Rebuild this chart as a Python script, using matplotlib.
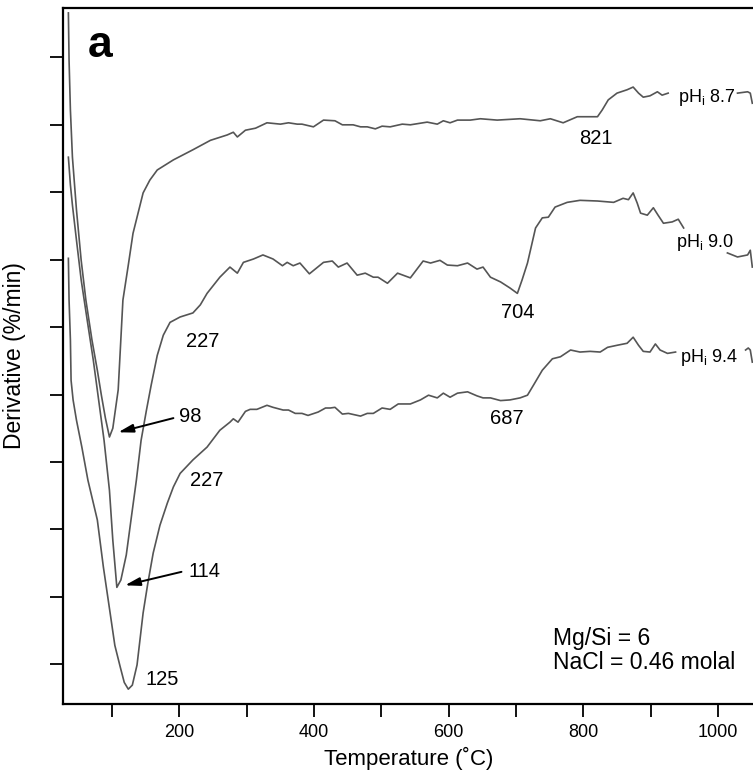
import numpy as np
import matplotlib
matplotlib.use("Agg")
import matplotlib.pyplot as plt

plt.rcParams["font.family"] = ["Liberation Sans", "DejaVu Sans"]
plt.rcParams["mathtext.fontset"] = "custom"
plt.rcParams["mathtext.rm"] = "Liberation Sans"
plt.rcParams["mathtext.it"] = "Liberation Sans"

# temperature (C) and derivative (arbitrary offset units, one y tick = 1)
# nan marks where the curve is hidden behind its label
temp_87 = [35, 36, 38, 41, 47, 54, 61, 70, 78, 84, 90, 96, 101, 109, 116, 124,
           131, 146, 156, 167, 191, 220, 246, 271, 280, 286, 298, 313, 330, 350,
           362, 375, 382, 399, 414, 431, 442, 458, 469, 479, 491, 501, 513, 531,
           543, 568, 583, 592, 602, 613, 632, 647, 672, 706, 736, 751, 770, 791,
           821, 828, 837, 850, 865, 874, 882, 889, 899, 910, 917, 926, 980, 1029,
           1044, 1048, 1051]
deriv_87 = [10.66, 9.96, 9.22, 8.52, 7.74, 6.99, 6.40, 5.81, 5.36, 4.99, 4.65,
            4.37, 4.50, 5.07, 6.40, 6.92, 7.39, 7.99, 8.18, 8.33, 8.48, 8.63,
            8.77, 8.85, 8.89, 8.82, 8.92, 8.95, 9.03, 9.01, 9.03, 9.01, 9.01,
            8.97, 9.07, 9.06, 9.00, 9.00, 8.97, 8.97, 8.94, 8.98, 8.97, 9.01,
            9.00, 9.04, 9.01, 9.06, 9.03, 9.07, 9.07, 9.09, 9.07, 9.09, 9.06,
            9.09, 9.03, 9.12, 9.12, 9.22, 9.37, 9.47, 9.52, 9.56, 9.47, 9.41,
            9.43, 9.49, 9.44, 9.47, np.nan, 9.47, 9.49, 9.47, 9.32]

temp_90 = [35, 38, 41, 47, 54, 63, 72, 79, 88, 96, 101, 107, 113, 121, 128, 136,
           143, 151, 158, 167, 176, 186, 201, 220, 231, 241, 260, 275, 286, 295,
           310, 324, 339, 353, 360, 369, 379, 393, 414, 427, 436, 449, 464, 476,
           488, 495, 509, 524, 543, 562, 573, 587, 598, 613, 628, 642, 651, 662,
           677, 691, 702, 709, 717, 729, 739, 748, 758, 776, 795, 821, 845, 859,
           867, 874, 880, 885, 895, 904, 911, 919, 932, 941, 949, 980, 1014, 1029,
           1044, 1048, 1051]
deriv_90 = [8.52, 8.11, 7.81, 7.29, 6.70, 6.10, 5.51, 4.99, 4.32, 3.58, 2.84,
            2.14, 2.25, 2.62, 3.14, 3.73, 4.32, 4.77, 5.14, 5.58, 5.88, 6.07,
            6.15, 6.21, 6.33, 6.50, 6.74, 6.89, 6.80, 6.96, 7.01, 7.07, 7.01,
            6.91, 6.96, 6.91, 6.95, 6.79, 6.96, 6.98, 6.89, 6.95, 6.77, 6.80,
            6.74, 6.74, 6.65, 6.80, 6.73, 6.98, 6.95, 6.99, 6.92, 6.91, 6.95,
            6.86, 6.89, 6.74, 6.67, 6.58, 6.50, 6.70, 6.95, 7.47, 7.62, 7.63,
            7.78, 7.85, 7.88, 7.87, 7.85, 7.91, 7.89, 7.99, 7.84, 7.69, 7.66,
            7.77, 7.66, 7.54, 7.56, 7.60, 7.47, np.nan, 7.10, 7.04, 7.07, 7.14,
            6.89]

temp_94 = [35, 36, 38, 39, 42, 47, 55, 64, 78, 87, 97, 104, 112, 118, 124, 130,
           137, 146, 153, 161, 171, 182, 191, 201, 220, 241, 260, 275, 280, 287,
           298, 305, 315, 330, 339, 354, 362, 372, 382, 391, 406, 417, 424, 431,
           442, 451, 469, 479, 488, 501, 513, 525, 543, 558, 570, 583, 592, 602,
           613, 628, 642, 651, 662, 677, 691, 706, 717, 726, 739, 754, 766, 781,
           795, 810, 825, 836, 850, 865, 874, 882, 889, 899, 907, 914, 925, 937,
           990, 1041, 1045, 1048, 1051]
deriv_94 = [7.02, 6.40, 5.81, 5.21, 4.92, 4.62, 4.22, 3.73, 3.14, 2.44, 1.76,
            1.28, 0.96, 0.73, 0.63, 0.69, 0.99, 1.76, 2.20, 2.65, 3.06, 3.39,
            3.63, 3.83, 4.03, 4.22, 4.47, 4.59, 4.64, 4.59, 4.75, 4.78, 4.78,
            4.84, 4.81, 4.77, 4.77, 4.72, 4.72, 4.69, 4.74, 4.80, 4.80, 4.81,
            4.71, 4.72, 4.68, 4.72, 4.72, 4.80, 4.78, 4.86, 4.86, 4.92, 4.99,
            4.95, 5.02, 4.96, 5.02, 5.04, 4.98, 4.95, 4.95, 4.91, 4.92, 4.95,
            4.99, 5.14, 5.36, 5.53, 5.56, 5.66, 5.63, 5.64, 5.63, 5.70, 5.73,
            5.76, 5.85, 5.73, 5.64, 5.63, 5.75, 5.66, 5.61, 5.63, np.nan, 5.66,
            5.69, 5.66, 5.48]

peak_labels = ["821", "704", "687", "227", "227", "125"]
peak_x = [818, 702, 687, 234, 241, 174]
peak_y = [8.79, 6.21, 4.65, 5.79, 3.73, 0.78]

arrow_labels = ["98", "114"]
arrow_text_xy = [(216, 4.68), (237, 2.38)]
arrow_tail = [(191, 4.65), (203, 2.37)]
arrow_head = [(109, 4.44), (119, 2.17)]

ph_labels = ["pH$_\\mathrm{i}$ 8.7", "pH$_\\mathrm{i}$ 9.0", "pH$_\\mathrm{i}$ 9.4"]
ph_x = [940, 937, 944]
ph_y = [9.41, 7.26, 5.55]

fig = plt.figure(figsize=(7.53, 7.74), dpi=100)
ax = fig.add_axes([63 / 753, 70 / 774, 692 / 753, 696.5 / 774])

line_color = "#555555"
for t, d in [(temp_87, deriv_87), (temp_90, deriv_90), (temp_94, deriv_94)]:
    ax.plot(t, d, color=line_color, lw=1.2)

for lab, x, y in zip(peak_labels, peak_x, peak_y):
    ax.text(x, y, lab, fontsize=14.5, ha="center", va="center")

for lab, txy, tail, head in zip(arrow_labels, arrow_text_xy, arrow_tail, arrow_head):
    ax.text(txy[0], txy[1], lab, fontsize=14.5, ha="center", va="center")
    ax.annotate("", xy=head, xytext=tail,
                arrowprops=dict(arrowstyle="-|>,head_length=0.9,head_width=0.25",
                                color="black", lw=1.4, shrinkA=0, shrinkB=0))

for lab, x, y in zip(ph_labels, ph_x, ph_y):
    ax.text(x, y, lab, fontsize=13, ha="left", va="center")

ax.text(82, 10.18, "a", fontsize=32, fontweight="bold", ha="center", va="center")
ax.text(755, 1.2, "Mg/Si = 6\nNaCl = 0.46 molal", fontsize=16.5,
        ha="left", va="center", linespacing=1.05)

ax.set_xlim(27, 1055)
ax.set_ylim(0.41, 10.74)

ax.set_xticks([200, 400, 600, 800, 1000])
ax.set_xticks([100, 300, 500, 700, 900], minor=True)
ax.set_yticks(range(1, 11))
ax.set_yticklabels([])
ax.tick_params(which="both", direction="out", length=9.5, width=1.3,
               labelsize=13, pad=5)

ax.spines["right"].set_visible(False)
for s in ["left", "top", "bottom"]:
    ax.spines[s].set_linewidth(1.6)

ax.set_xlabel("Temperature (\u02daC)", fontsize=16)
ax.xaxis.set_label_coords(0.5, -0.062)
ax.xaxis.label.set_va("top")
fig.text(15 / 753, 1 - 356 / 774, "Derivative (%/min)", fontsize=16.5,
         rotation=90, ha="center", va="center")

fig.savefig("out.png", dpi=100)
plt.close(fig)
